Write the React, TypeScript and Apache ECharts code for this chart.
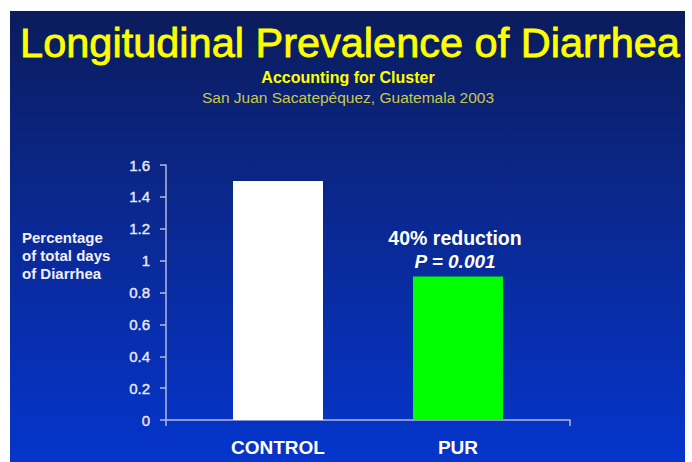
import React, { useEffect, useRef } from "react";
import * as echarts from "echarts";

const categories = ["CONTROL", "PUR"];
const values = [1.5, 0.9];
const barColors = ["#ffffff", "#00ff00"];
const yTickLabels = ["0", "0.2", "0.4", "0.6", "0.8", "1", "1.2", "1.4", "1.6"];
const annotationLines = ["40% reduction", "P = 0.001"];
const titleText = "Longitudinal Prevalence of Diarrhea";
const subtitleText = "Accounting for Cluster";
const locationText = "San Juan Sacatepéquez, Guatemala 2003";
const yAxisTitleLines = ["Percentage", "of total days", "of Diarrhea"];

const FONT = "Liberation Sans, Arial, sans-serif";
const AXIS_COLOR = "#b4b8e0";

export default function App() {
  const ref = useRef<HTMLDivElement>(null);
  useEffect(() => {
    if (!ref.current) return;
    const chart = echarts.init(ref.current, undefined, { renderer: "svg" });
    const option: any = {
      animation: false,
      grid: [
        { left: 166, top: 165, width: 404, height: 255 },
        { left: 188, top: 165, width: 360, height: 255 },
      ],
      xAxis: [
        {
          gridIndex: 0,
          type: "value",
          min: 0,
          max: 1,
          interval: 1,
          axisLine: { show: true, lineStyle: { color: AXIS_COLOR, width: 1.5 } },
          axisTick: { show: true, length: 6, lineStyle: { color: AXIS_COLOR, width: 1.5 } },
          axisLabel: { show: false },
          splitLine: { show: false },
        },
        {
          gridIndex: 1,
          type: "category",
          data: categories,
          axisLine: { show: false },
          axisTick: { show: false },
          axisLabel: {
            color: "#ffffff",
            fontWeight: "bold",
            fontSize: 19,
            fontFamily: FONT,
            margin: 18,
          },
        },
      ],
      yAxis: [
        {
          gridIndex: 0,
          type: "value",
          min: 0,
          max: 1.6,
          interval: 0.2,
          axisLine: { show: true, lineStyle: { color: AXIS_COLOR, width: 1.5 } },
          axisTick: { show: true, length: 6, lineStyle: { color: AXIS_COLOR, width: 1.5 } },
          axisLabel: {
            color: "#e8e8f8",
            fontSize: 15,
            fontFamily: FONT,
            margin: 16,
            textBorderColor: "#e8e8f8",
            textBorderWidth: 0.4,
            formatter: (_v: number, i: number) => yTickLabels[i],
          },
          splitLine: { show: false },
        },
        { gridIndex: 1, type: "value", min: 0, max: 1.6, interval: 0.2, show: false },
      ],
      series: [
        {
          type: "bar",
          xAxisIndex: 1,
          yAxisIndex: 1,
          barWidth: 90,
          data: values.map((v, i) => ({
            value: v,
            itemStyle: { color: barColors[i] },
            label:
              i === 1
                ? {
                    show: true,
                    position: "top",
                    distance: 4,
                    offset: [-3, 0],
                    formatter: `{a|${annotationLines[0]}}\n{b|${annotationLines[1]}}`,
                    rich: {
                      a: {
                        fontSize: 19.5,
                        fontWeight: "bold",
                        color: "#ffffff",
                        fontFamily: FONT,
                        lineHeight: 23,
                      },
                      b: {
                        fontSize: 19,
                        fontWeight: "bold",
                        fontStyle: "italic",
                        color: "#ffffff",
                        fontFamily: FONT,
                        lineHeight: 23,
                      },
                    },
                  }
                : { show: false },
          })),
        },
      ],
      graphic: [
        {
          type: "rect",
          z: -100,
          silent: true,
          shape: { x: 10, y: 11, width: 675, height: 451 },
          style: {
            fill: new echarts.graphic.LinearGradient(0, 0, 0, 1, [
              { offset: 0, color: "#0b1c5c" },
              { offset: 0.45, color: "#0a2890" },
              { offset: 1, color: "#0535cc" },
            ]),
          },
        },
        {
          type: "text",
          z: 100,
          x: 350,
          y: 42,
          style: {
            text: titleText,
            fill: "#ffff00",
            stroke: "#ffff00",
            lineWidth: 0.8,
            fontSize: 41.5,
            fontFamily: FONT,
            align: "center",
            verticalAlign: "middle",
            textAlign: "center",
            textVerticalAlign: "middle",
          },
        },
        {
          type: "text",
          z: 100,
          x: 348,
          y: 77,
          style: {
            text: subtitleText,
            fill: "#ffff00",
            fontSize: 16,
            fontWeight: "bold",
            fontFamily: FONT,
            align: "center",
            verticalAlign: "middle",
            textAlign: "center",
            textVerticalAlign: "middle",
          },
        },
        {
          type: "text",
          z: 100,
          x: 348,
          y: 97,
          style: {
            text: locationText,
            fill: "#c8c850",
            fontSize: 15.5,
            fontFamily: FONT,
            align: "center",
            verticalAlign: "middle",
            textAlign: "center",
            textVerticalAlign: "middle",
          },
        },
        {
          type: "text",
          z: 100,
          x: 22,
          y: 228,
          style: {
            text: yAxisTitleLines.join("\n"),
            fill: "#f0f0ff",
            fontSize: 15,
            fontWeight: "bold",
            fontFamily: FONT,
            lineHeight: 18,
            align: "left",
            verticalAlign: "top",
            textAlign: "left",
            textVerticalAlign: "top",
          },
        },
      ],
    };
    chart.setOption(option);
    return () => chart.dispose();
  }, []);
  return (
    <div
      ref={ref}
      style={{
        position: "absolute",
        left: 0,
        top: 0,
        width: 692,
        height: 462,
        background: "#ffffff",
      }}
    />
  );
}
